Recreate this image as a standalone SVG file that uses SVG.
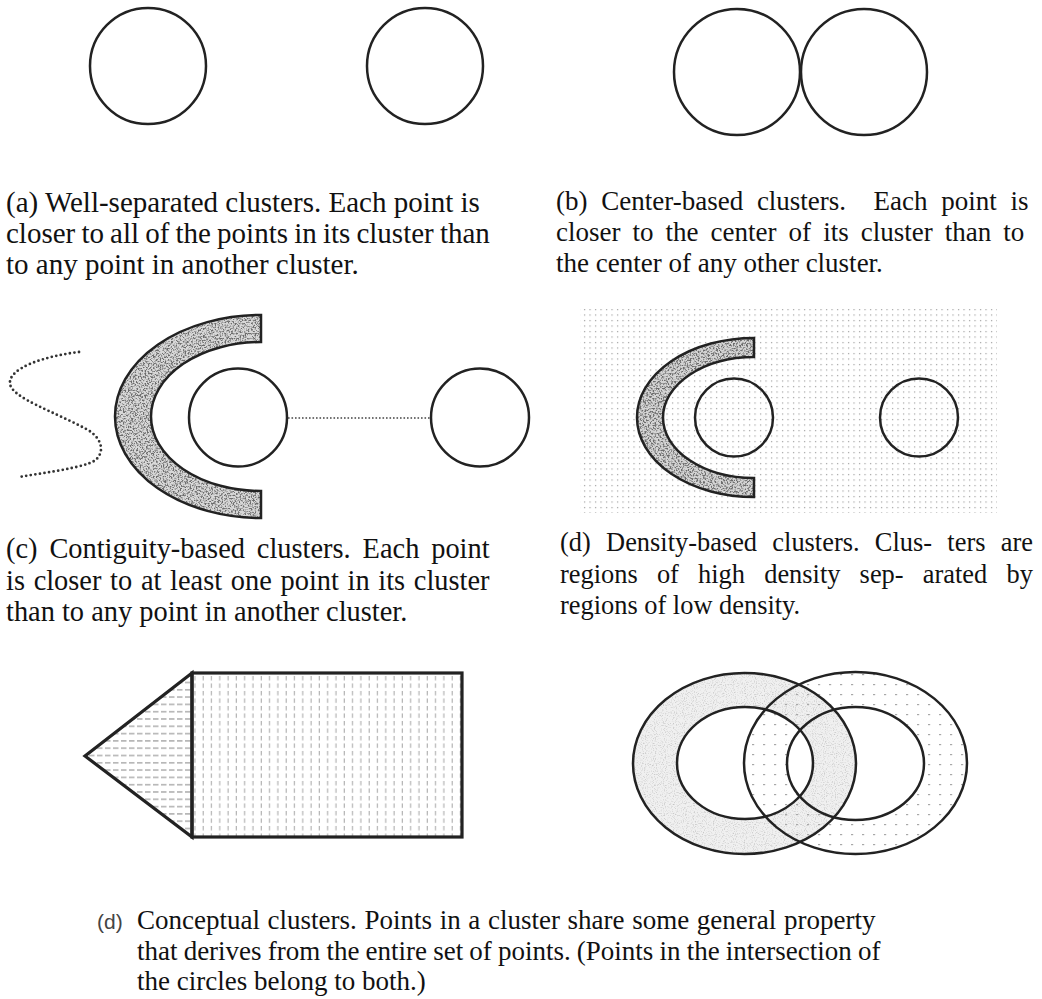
<svg xmlns="http://www.w3.org/2000/svg" width="1042" height="999" viewBox="0 0 1042 999">
<style>
.ln{fill:none;stroke:#222;stroke-width:2.5}
.thk{stroke:#222;stroke-width:3.2}
.t{font-family:"Liberation Serif","Times New Roman",serif;fill:#111}
.ta{font-size:29px}
.tb{font-size:27px}
.tc{font-size:28.4px}
.td{font-size:26.4px}
.te{font-size:27px}
.ts{font-family:"Liberation Sans",Arial,sans-serif;font-size:21px;fill:#444}
</style>
<defs>
<pattern id="hdash" patternUnits="userSpaceOnUse" width="10" height="9.5"><line x1="2" y1="4.7" x2="6.8" y2="4.7" stroke="#b4b4b4" stroke-width="1.5"/></pattern>
<pattern id="vdash" patternUnits="userSpaceOnUse" width="10" height="11"><line x1="5" y1="1" x2="5" y2="8" stroke="#adadad" stroke-width="1.4"/></pattern>
<pattern id="hdash2" patternUnits="userSpaceOnUse" width="8" height="7.3"><line x1="1" y1="3.6" x2="6.5" y2="3.6" stroke="#999" stroke-width="1.2"/></pattern>
<pattern id="vdash2" patternUnits="userSpaceOnUse" width="8.3" height="7.5"><line x1="4" y1="1" x2="4" y2="5.5" stroke="#b3b3b3" stroke-width="1.2"/></pattern>
<pattern id="dots" patternUnits="userSpaceOnUse" width="5.5" height="5.5"><rect x="1" y="1" width="1.1" height="1.1" fill="#8c8c8c"/></pattern>
<pattern id="sparse" patternUnits="userSpaceOnUse" width="11" height="10"><rect x="4" y="4" width="2.2" height="1.2" fill="#a8a8a8"/></pattern>
<filter id="grit" x="0" y="0" width="1" height="1">
<feTurbulence type="fractalNoise" baseFrequency="0.6" numOctaves="3" seed="7" result="t"/>
<feColorMatrix in="t" type="matrix" values="0 0 0 0 0.15  0 0 0 0 0.15  0 0 0 0 0.15  4.5 0 0 0 -2.05" result="g"/>
<feComposite in="g" in2="SourceAlpha" operator="in"/>
</filter>
<filter id="stip" x="0" y="0" width="1" height="1">
<feTurbulence type="fractalNoise" baseFrequency="0.9" numOctaves="1" seed="3" result="t"/>
<feColorMatrix in="t" type="matrix" values="0 0 0 0 0.55  0 0 0 0 0.55  0 0 0 0 0.55  3 0 0 0 -1.5" result="g"/>
<feComposite in="g" in2="SourceAlpha" operator="in"/>
</filter>
</defs>
<rect width="1042" height="999" fill="#fff"/>

<g id="panel-a">
<circle cx="148" cy="66" r="58" class="ln"/>
<circle cx="425" cy="66" r="58" class="ln"/>
</g>

<g id="panel-b">
<circle cx="737" cy="72" r="63" fill="url(#hdash)" class="ln"/>
<circle cx="864" cy="72" r="63" fill="url(#vdash)" class="ln"/>
</g>

<g id="panel-c">
<path d="M79,352 C45,356 8,368 10,384 C12,398 55,412 88,430 C106,441 104,458 90,463 C70,470 42,473 19,477" fill="none" stroke="#333" stroke-width="2.8" stroke-dasharray="0 4.6" stroke-linecap="round"/>
<path d="M261,315 A146,101.5 0 0 0 261,518 L261,491 A110,74.5 0 0 1 261,342 Z" fill="#d8d8d8"/>
<path d="M261,315 A146,101.5 0 0 0 261,518 L261,491 A110,74.5 0 0 1 261,342 Z" fill="#000" filter="url(#grit)"/>
<path d="M261,315 A146,101.5 0 0 0 261,518 L261,491 A110,74.5 0 0 1 261,342 Z" class="ln"/>
<circle cx="238" cy="417.5" r="49" class="ln"/>
<circle cx="480" cy="417.5" r="49" class="ln"/>
</g>

<g id="connectors">
<line x1="288" y1="418" x2="430" y2="418" stroke="#444" stroke-width="1.6" stroke-dasharray="1.6 1.9"/>
</g>

<g id="panel-d">
<rect x="580" y="309" width="417" height="204" fill="url(#dots)"/>
<path d="M754,338 A117,79.5 0 0 0 754,497 L754,478 A91,60.5 0 0 1 754,357 Z" fill="#d4d4d4"/>
<path d="M754,338 A117,79.5 0 0 0 754,497 L754,478 A91,60.5 0 0 1 754,357 Z" fill="#000" filter="url(#grit)"/>
<path d="M754,338 A117,79.5 0 0 0 754,497 L754,478 A91,60.5 0 0 1 754,357 Z" class="ln"/>
<circle cx="734" cy="417.5" r="39" fill="#fff" class="ln"/>
<circle cx="919" cy="417.5" r="39" fill="#fff" class="ln"/>
</g>

<g id="panel-e">
<path d="M192,673 L85,756 L192,837 Z" fill="url(#hdash2)" class="thk"/>
<rect x="192" y="673" width="270" height="164" fill="url(#vdash2)" class="thk"/>
</g>

<g id="panel-f">
<path d="M633,763.5 a111.5,90.5 0 1 0 223,0 a111.5,90.5 0 1 0 -223,0 Z M677,763 a68,56 0 1 0 136,0 a68,56 0 1 0 -136,0 Z" fill="#f0f0f0" fill-rule="evenodd"/>
<path d="M633,763.5 a111.5,90.5 0 1 0 223,0 a111.5,90.5 0 1 0 -223,0 Z M677,763 a68,56 0 1 0 136,0 a68,56 0 1 0 -136,0 Z" fill="#000" fill-rule="evenodd" filter="url(#stip)"/>
<path d="M744,763 a111.5,91 0 1 0 223,0 a111.5,91 0 1 0 -223,0 Z M787,763.5 a68.5,56.5 0 1 0 137,0 a68.5,56.5 0 1 0 -137,0 Z" fill="url(#sparse)" fill-rule="evenodd"/>
<ellipse cx="744.5" cy="763.5" rx="111.5" ry="90.5" class="ln" stroke-width="3"/>
<ellipse cx="745" cy="763" rx="68" ry="56" class="ln" stroke-width="3"/>
<ellipse cx="855.5" cy="763" rx="111.5" ry="91" class="ln" stroke-width="3"/>
<ellipse cx="855.5" cy="763.5" rx="68.5" ry="56.5" class="ln" stroke-width="3"/>
</g>

<g id="captions">
<text class="t ta" x="6" y="212">(a) Well-separated clusters. Each point is</text>
<text class="t ta" x="6" y="243" word-spacing="-1.1">closer to all of the points in its cluster than</text>
<text class="t ta" x="6" y="274">to any point in another cluster.</text>

<text class="t tb" x="556" y="210" word-spacing="7" xml:space="preserve">(b) Center-based clusters.  Each point is</text>
<text class="t tb" x="556" y="241" word-spacing="5.3">closer to the center of its cluster than to</text>
<text class="t tb" x="556" y="272">the center of any other cluster.</text>

<text class="t tc" x="6" y="558" word-spacing="4.8">(c) Contiguity-based clusters. Each point</text>
<text class="t tc" x="6" y="590" word-spacing="1.6">is closer to at least one point in its cluster</text>
<text class="t tc" x="6" y="621">than to any point in another cluster.</text>

<text class="t td" x="560" y="551" word-spacing="8.7">(d) Density-based clusters. Clus- ters are</text>
<text class="t td" x="560" y="583" word-spacing="12.6">regions of high density sep- arated by</text>
<text class="t td" x="560" y="614">regions of low density.</text>

<text class="ts" x="97" y="929">(d)</text>
<text class="t te" x="137" y="929" word-spacing="0.9">Conceptual clusters. Points in a cluster share some general property</text>
<text class="t te" x="137" y="960" word-spacing="-0.6">that derives from the entire set of points. (Points in the intersection of</text>
<text class="t te" x="137" y="990">the circles belong to both.)</text>
</g>
</svg>
